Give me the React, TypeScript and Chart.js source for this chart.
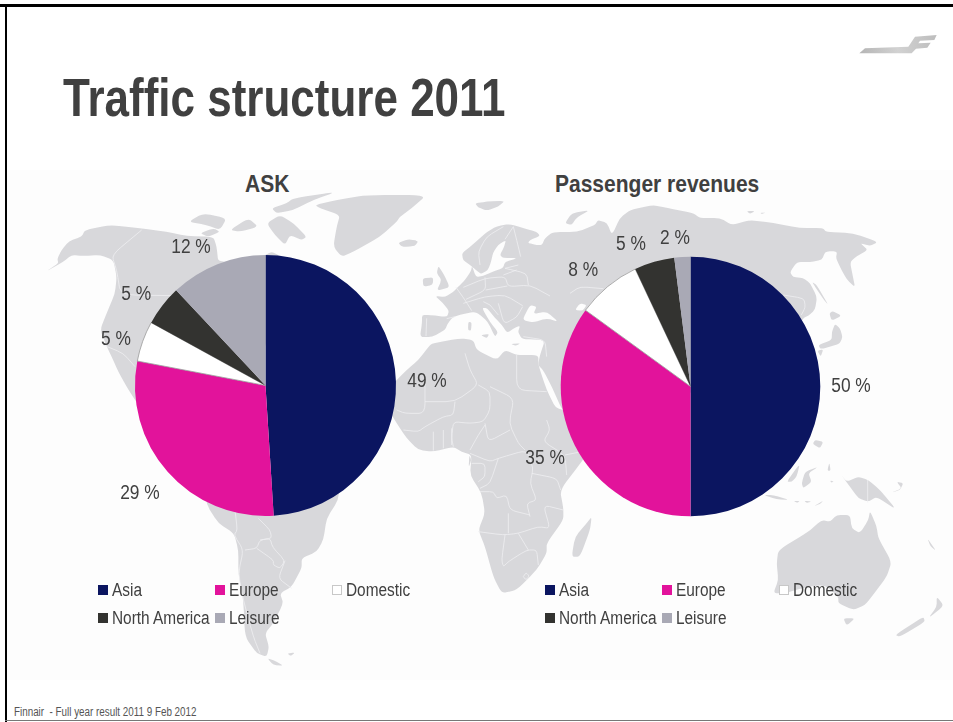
import React, { useEffect, useRef } from "react";
import { Chart, registerables } from "chart.js";

Chart.register(...registerables);

const categories = ["Asia", "Europe", "Domestic", "North America", "Leisure"];
const askShares = [49, 29, 5, 5, 12];
const revenueShares = [50, 35, 8, 5, 2];
const sliceColors = ["#0B1560", "#E2139B", "#FFFFFF", "#333330", "#A9A9B5"];

const FONT = '"Liberation Sans", Arial, sans-serif';
const INK = "#404040";
const LAND = "#D8D8DB";
const SEA = "#FDFDFD";

// Per-slice label shifts from the common label ring.
const askLabelShift = [[1.6, 1], [-5.5, 1.9], [1, 8.2], [-2.8, 7.1], [-15.6, 10.5]];
const revenueLabelShift = [[0.5, 0.2], [-2.9, -0.4], [-5.2, 7.5], [-14.9, 11.8], [-5.5, 11.9]];
const LABEL_RING = 160;

// Backdrop map: each group is traced at 3x around its own origin.
type MapGroup = { x: number; y: number; scale: number; land: string[]; water?: string[]; borders?: string[] };

const mapGroups: MapGroup[] = [
  {
    // Northern landmasses of the Americas and the Arctic
    x: 0, y: 180, scale: 3,
    land: [
      "137,275 175,250 172,236 185,210 207,183 245,170 255,150 330,135 420,145 500,155 560,168 640,170 650,200 655,250 800,225 830,300 800,500 620,975 560,900 470,760 420,680 405,660 380,620 355,575 335,530 325,510 300,450 320,400 345,340 350,290 340,240 300,225 250,228 215,225 190,245",
      "945,75 1010,60 1100,45 1280,45 1235,85 1200,110 1190,125 1140,170 1060,215 1025,230 1000,200 1010,140 1020,105 960,85",
      "1195,190 1225,180 1255,183 1245,198 1210,200",
      "565,125 610,100 680,115 660,150 620,135",
      "800,130 840,105 880,130 920,170 905,180 870,165 855,195 825,165",
      "880,55 1010,35 940,60 880,90 830,100 815,85 860,70",
      "690,150 745,115 775,140 720,155",
      "600,160 640,145 660,155 625,170",
      "790,228 815,215 835,225 850,250 800,260",
    ],
    borders: [
      "425,150 335,225 350,270 362,345 530,347",
      "310,495 370,520 405,560",
    ],
  },
  {
    // South America below the left pie
    x: 160, y: 490, scale: 3,
    land: [
      "140,45 175,100 222,130 235,180 235,250 250,330 255,440 290,490 320,500 327,470 315,430 340,400 370,340 360,310 395,290 425,235 425,205 470,185 490,150 500,85 535,30 540,-30 130,-30",
      "322,505 345,512 370,527 340,525",
      "382,490 405,488 392,498",
    ],
    borders: [
      "225,60 232,120 222,135 250,180 235,250 250,330 280,440 300,490",
      "295,85 330,120 335,145 300,150 290,175 255,180",
      "300,150 330,145 338,172 375,212 360,235 340,225 340,210 290,175",
      "375,212 355,265 395,295",
    ],
  },
  {
    // Africa and Madagascar
    x: 390, y: 380, scale: 3,
    land: [
      "120,-105 85,-60 50,-30 0,20 -10,80 20,130 50,175 85,210 130,215 190,200 215,215 245,225 240,285 275,340 285,400 265,450 285,500 310,590 335,640 380,630 440,570 470,520 470,490 520,420 520,385 510,330 575,245 640,150 600,90 500,90 470,30 445,-45 445,-75 380,-75 345,-90 320,-60 260,-90 250,-120 210,-125 130,-110",
      "605,410 600,450 570,530 545,530 555,470 590,430",
      "238,225 244,240 236,262",
    ],
    borders: [
      "105,0 105,100 45,100 20,90",
      "105,65 195,65 265,15 240,-30 225,-80",
      "195,65 190,105 160,110 105,140 85,155 40,150",
      "265,15 300,35 300,90 280,125 240,130 190,125 185,175 190,200",
      "380,-75 380,30 470,35",
      "300,20 372,55 357,130 385,190 405,210",
      "285,130 295,185 360,150",
      "130,155 130,212 M160,150 160,205 M185,145 185,195",
      "240,210 265,165 285,135",
      "240,220 300,245 325,235 410,210 430,265 420,310 440,360 410,370 420,410",
      "325,235 300,310 270,325 M245,250 285,250 285,290 265,305",
      "270,335 310,335 320,355 350,345 360,390 420,405",
      "355,400 355,460 M265,455 340,465 385,460 445,440 480,445 460,375 520,390",
      "345,465 335,540 340,560 355,545 410,510 440,510 445,555",
      "385,460 415,510",
      "425,280 500,295 512,330",
      "470,120 480,150 460,185 525,225 530,285 M525,225 575,215",
      "400,590 408,578 418,588 408,600 400,590",
    ],
  },
  {
    // Europe, western Russia and the inland seas around them
    x: 390, y: 190, scale: 3,
    land: [
      "255,40 290,35 345,32 325,50 290,62 265,52",
      "525,100 545,70 600,60 560,82 545,105",
      "145,228 160,250 180,292 140,302 155,270 140,250",
      "98,265 130,262 128,285 100,290",
      "25,158 55,148 82,152 70,168 35,170",
      "235,395 245,398 243,422 234,420",
      "272,435 298,432 290,445",
      "362,462 392,460 378,467",
      "428,438 445,432 436,447",
    ],
    water: [
      "397,390 420,345 440,350 430,372 470,365 505,395 470,385 430,397",
      "555,360 570,340 590,345 578,362",
    ],
    borders: [
      "340,110 290,140 265,185 270,225",
      "370,110 380,150 392,200",
      "345,148 370,110",
      "220,292 285,265 345,260 355,290 420,285 480,318",
      "285,262 287,300 228,328",
      "220,340 285,320 345,315 398,347",
      "287,300 352,288",
      "345,235 410,250 415,285",
      "340,255 380,240 M345,235 385,225",
      "325,340 342,402 380,382 398,350",
      "198,292 225,330 245,362",
      "110,385 108,438 M170,386 195,380",
      "300,345 325,375 M280,335 300,345",
      "540,310 570,290 640,296",
      "400,440 465,450 470,500",
    ],
  },
  {
    // Far East, seen to the right of the second pie
    x: 700, y: 200, scale: 3,
    land: [
      "335,245 350,255 385,315 372,300",
      "388,340 398,333 425,347 395,362",
      "405,372 420,385 428,412 418,432 362,448 355,435 395,420 396,395",
      "352,452 370,448 362,470",
      "140,33 165,33 150,42",
      "180,38 198,38 185,42",
    ],
    borders: ["250,285 312,295 316,322 304,345"],
  },
  {
    // Australasia and the island chains north of it
    x: 740, y: 440, scale: 3,
    land: [
      "115,330 205,275 245,240 270,245 290,225 330,225 335,265 360,280 385,240 390,212 410,260 415,295 455,365 440,410 395,470 375,495 340,510 295,490 295,470 255,435 200,440 135,460 100,460 115,420 110,370",
      "310,535 345,535 320,557",
      "465,585 550,530 555,545 480,590",
      "565,535 590,500 590,470 612,497",
      "300,100 320,125 355,110 385,120 420,150 470,210 410,170 385,185 355,175 330,140",
      "185,130 195,95 235,80 205,100 215,125 190,145",
      "70,165 100,165 148,180 110,178",
      "160,183 180,183 172,188 M192,182 215,185 200,189",
      "222,198 250,182 240,192",
      "225,0 250,5 240,25 218,12",
      "140,125 180,70 170,110 155,125",
      "455,158 485,145 470,125 490,130 480,150",
      "562,295 588,332 572,320",
      "262,92 268,68 272,92",
      "270,122 282,124 274,128",
    ],
    borders: ["383,120 383,187"],
  },
];

// Eurasia spans several map groups, so it is traced at page scale.
const eurasiaOutline =
  "422,315 430,315 447,317 449,311 443,303 435,296 445,297 453,292 460,285 465,280 471,271 472,266 476,277 483,276 492,272 503,268 505,262 518,258 503,258 500,255 504,247 506,240 498,245 493,253 491,262 488,270 481,274 476,270 470,265 463,260 462,253 470,247 480,238 487,232 497,226 510,224 523,228 537,232 540,236 530,240 528,243 537,245 542,245 545,238 553,232 577,232 595,225 598,220 607,223 612,235 620,218 630,210 653,205 667,208 693,213 700,218 720,218 732,225 750,220 773,223 800,228 823,228 826,232 853,233 878,242 870,246 860,243 868,250 857,256 850,262 853,277 855,287 847,280 840,267 836,258 837,252 832,251 825,252 822,260 810,262 797,262 790,272 793,277 803,278 810,283 817,297 815,310 808,316 803,318 780,360 700,390 600,420 575,420 562,410 552,387 543,370 538,365 540,355 545,340 522,339 518,332 520,326 516,327 507,333 502,325 495,318 487,308 482,308 490,322 498,332 495,337 488,322 478,313 472,312 460,315 453,317 448,323 445,330 432,337 420,337 422,323";

const legendColumns = [0, 117, 234];
const legendRows = [0, 28];

function splitParts(points: string) {
  return points.split(" M").map((part) => part.trim());
}

// Turns a traced point list into a path with softened corners.
function softPath(points: string, closed: boolean) {
  const pts = points.split(" ").map((p) => p.split(",").map(Number));
  const n = pts.length;
  const along = (a: number[], b: number[], t: number) => `${a[0] + (b[0] - a[0]) * t},${a[1] + (b[1] - a[1]) * t}`;
  if (n < 3) return `M${pts.map((p) => p.join(",")).join(" L")}`;
  let d = closed ? `M${along(pts[0], pts[1], 0.3)}` : `M${pts[0].join(",")}`;
  const last = closed ? n : n - 1;
  for (let i = 1; i <= last; i++) {
    const prev = pts[(i - 1 + n) % n];
    const cur = pts[i % n];
    const next = pts[(i + 1) % n];
    if (!closed && i === n - 1) {
      d += ` L${cur.join(",")}`;
    } else {
      d += ` L${along(prev, cur, 0.7)} Q${cur.join(",")} ${along(cur, next, 0.3)}`;
    }
  }
  return closed ? `${d} Z` : d;
}

function WorldMap() {
  return (
    <svg width={953} height={510} viewBox="0 170 953 510"
      style={{ position: "absolute", left: 0, top: 170 }}>
      <path d={softPath(eurasiaOutline, true)} fill={LAND} />
      {mapGroups.map((g, i) => (
        <g key={i} transform={`translate(${g.x} ${g.y}) scale(${1 / g.scale})`}>
          {g.land.flatMap((pts, j) =>
            splitParts(pts).map((p, k) => <path key={`l${j}-${k}`} d={softPath(p, true)} fill={LAND} />)
          )}
          {(g.water ?? []).map((pts, j) => <path key={`w${j}`} d={softPath(pts, true)} fill={SEA} />)}
          {(g.borders ?? []).flatMap((pts, j) =>
            splitParts(pts).map((p, k) => (
              <path key={`b${j}-${k}`} d={softPath(p, false)} fill="none" stroke="#EFEFF1" strokeWidth={2.4} />
            ))
          )}
        </g>
      ))}
    </svg>
  );
}

type PieProps = { values: number[]; shifts: number[][]; left: number; top: number; width: number; height: number; radius: number };

function SharePie({ values, shifts, left, top, width, height, radius }: PieProps) {
  const ref = useRef<HTMLCanvasElement>(null);
  useEffect(() => {
    const chart = new Chart(ref.current!, {
      type: "pie",
      data: {
        labels: categories,
        datasets: [{
          data: values,
          backgroundColor: sliceColors,
          borderColor: ["#0B1560", "#E2139B", "#9A9A9A", "#333330", "#A9A9B5"],
          borderWidth: [0, 0, 0.8, 0, 0],
          radius,
        }],
      },
      options: {
        responsive: false,
        animation: false,
        plugins: { legend: { display: false }, tooltip: { enabled: false } },
        layout: { padding: 0 },
      },
      plugins: [{
        id: "percentLabels",
        afterDatasetsDraw(c) {
          const ctx = c.ctx;
          const arcs = c.getDatasetMeta(0).data as any[];
          ctx.font = `20px ${FONT}`;
          ctx.fillStyle = INK;
          ctx.textAlign = "center";
          ctx.textBaseline = "middle";
          arcs.forEach((arc, i) => {
            const mid = (arc.startAngle + arc.endAngle) / 2;
            ctx.save();
            ctx.translate(
              arc.x + Math.cos(mid) * LABEL_RING + shifts[i][0],
              arc.y + Math.sin(mid) * LABEL_RING + shifts[i][1]
            );
            ctx.scale(0.867, 1);
            ctx.fillText(`${values[i]} %`, 0, 0);
            ctx.restore();
          });
        },
      }],
    });
    return () => chart.destroy();
  }, [values, shifts, radius]);
  return <canvas ref={ref} width={width} height={height} style={{ position: "absolute", left, top, width, height }} />;
}

function text(content: string, left: number, top: number, size: number, squeeze: number, bold = false, color = INK) {
  return (
    <div style={{
      position: "absolute", left, top, fontFamily: FONT, fontSize: size, lineHeight: 1, color,
      fontWeight: bold ? 700 : 400, whiteSpace: "pre", transform: `scaleX(${squeeze})`, transformOrigin: "left center",
    }}>{content}</div>
  );
}

function Legend({ left, top }: { left: number; top: number }) {
  return (
    <>
      {categories.map((name, i) => {
        const x = left + legendColumns[i % 3];
        const y = top + legendRows[Math.floor(i / 3)];
        const isDomestic = name === "Domestic";
        return (
          <React.Fragment key={name}>
            <div style={{
              position: "absolute", left: x, top: y - 5, width: 10, height: 10, boxSizing: "border-box",
              background: sliceColors[i], border: isDomestic ? "1px solid #C8C8C8" : "none",
            }} />
            {text(name, x + 14, y - 9, 18, 0.855)}
          </React.Fragment>
        );
      })}
    </>
  );
}

export default function App() {
  useEffect(() => {
    document.body.style.margin = "0";
    document.body.style.background = "#FFFFFF";
  }, []);
  return (
    <div style={{ position: "relative", width: 953, height: 722, overflow: "hidden", background: "#FFFFFF" }}>
      <div style={{ position: "absolute", left: 0, top: 170, width: 953, height: 510, background: SEA }} />
      <WorldMap />
      <div style={{ position: "absolute", left: 0, top: 4, width: 953, height: 3, background: "#000" }} />
      <div style={{ position: "absolute", left: 5, top: 4, width: 2, height: 718, background: "#000" }} />
      <div style={{ position: "absolute", left: 5, top: 720, width: 948, height: 1, background: "#777" }} />

      <svg width={113} height={70} viewBox="0 0 339 210" style={{ position: "absolute", left: 840, top: 0 }}>
        <defs>
          <linearGradient id="finMark" x1="0" x2="1" y1="0" y2="0">
            <stop offset="0" stopColor="#B5B5B5" />
            <stop offset="0.5" stopColor="#D2D2D2" />
            <stop offset="1" stopColor="#BDBDBD" />
          </linearGradient>
        </defs>
        <polygon fill="url(#finMark)"
          points="58,160 75,145 205,140 225,110 290,105 283,120 240,122 235,130 272,128 262,143 228,146 215,160" />
      </svg>

      {text("Traffic structure 2011", 63, 71, 53, 0.83, true)}
      {text("ASK", 245, 172, 24, 0.875, true)}
      {text("Passenger revenues", 555, 172, 24, 0.875, true)}

      <SharePie values={askShares} shifts={askLabelShift} left={56} top={176} width={419} height={419} radius={130.5} />
      <SharePie values={revenueShares} shifts={revenueLabelShift} left={481} top={176} width={419} height={421} radius={129.8} />

      <Legend left={98} top={590} />
      <Legend left={545} top={590} />

      {text("Finnair  - Full year result 2011 9 Feb 2012", 14, 706, 12, 0.82, false, "#555555")}
    </div>
  );
}
